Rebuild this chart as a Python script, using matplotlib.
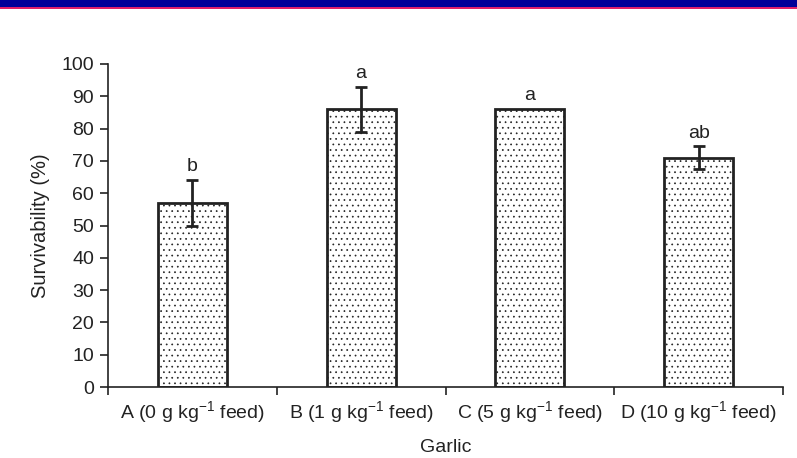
import matplotlib.pyplot as plt
from matplotlib.patches import Rectangle
import numpy as np

plt.rcParams['font.family'] = ['Liberation Sans', 'DejaVu Sans']
plt.rcParams['mathtext.default'] = 'regular'
plt.rcParams['hatch.color'] = '#aaaaaa'
plt.rcParams['hatch.linewidth'] = 0.5

# Datos
groups = [r'A (0 g kg$^{-1}$ feed)', r'B (1 g kg$^{-1}$ feed)',
          r'C (5 g kg$^{-1}$ feed)', r'D (10 g kg$^{-1}$ feed)']
survival = [57, 86, 86, 71]
errors = [7, 7, 0, 3.5]
letters = ['b', 'a', 'a', 'ab']

fig = plt.figure(figsize=(7.97, 4.58), dpi=100)

# Banda superior azul con línea roja
fig.patches.append(Rectangle((0, 1 - 7 / 458), 1, 7 / 458, transform=fig.transFigure,
                             facecolor='#000099', edgecolor='none'))
fig.patches.append(Rectangle((0, 1 - 8.5 / 458), 1, 1.5 / 458, transform=fig.transFigure,
                             facecolor='#e0206a', edgecolor='none'))

ax = fig.add_axes([108 / 797, 71 / 458, 675 / 797, 323 / 458])

x = np.arange(len(groups))
ax.bar(x, survival, width=0.41, color='white', edgecolor='#222222',
       linewidth=2, hatch='...', zorder=2)
ax.errorbar(x, survival, yerr=[e if e > 0 else np.nan for e in errors],
            fmt='none', ecolor='#222222', elinewidth=2, capsize=4, capthick=2, zorder=3)

for xi, val, err, lab in zip(x, survival, errors, letters):
    ax.text(xi, val + err + 1.5, lab, ha='center', va='bottom', fontsize=14, color='#222222')

ax.set_xlim(-0.5, len(groups) - 0.5)
ax.set_ylim(0, 100)
ax.set_yticks(range(0, 101, 10))
ax.set_xticks(x)
ax.set_xticklabels(groups, fontsize=14)
ax.set_xticks(np.arange(-0.5, len(groups), 1), minor=True)
ax.tick_params(axis='x', which='major', length=0, pad=9, colors='#222222')
ax.tick_params(axis='x', which='minor', length=6, width=1.2, direction='out', color='#222222')
ax.tick_params(axis='y', length=6, width=1.2, labelsize=14, pad=4, colors='#222222')

for side in ['top', 'right']:
    ax.spines[side].set_visible(False)
for side in ['left', 'bottom']:
    ax.spines[side].set_linewidth(1.2)
    ax.spines[side].set_color('#222222')

ax.set_ylabel('Survivability (%)', fontsize=14.5, color='#222222', labelpad=8)
ax.set_xlabel('Garlic', fontsize=14, color='#222222', labelpad=10)

plt.savefig('out.png', dpi=100)
plt.close()
